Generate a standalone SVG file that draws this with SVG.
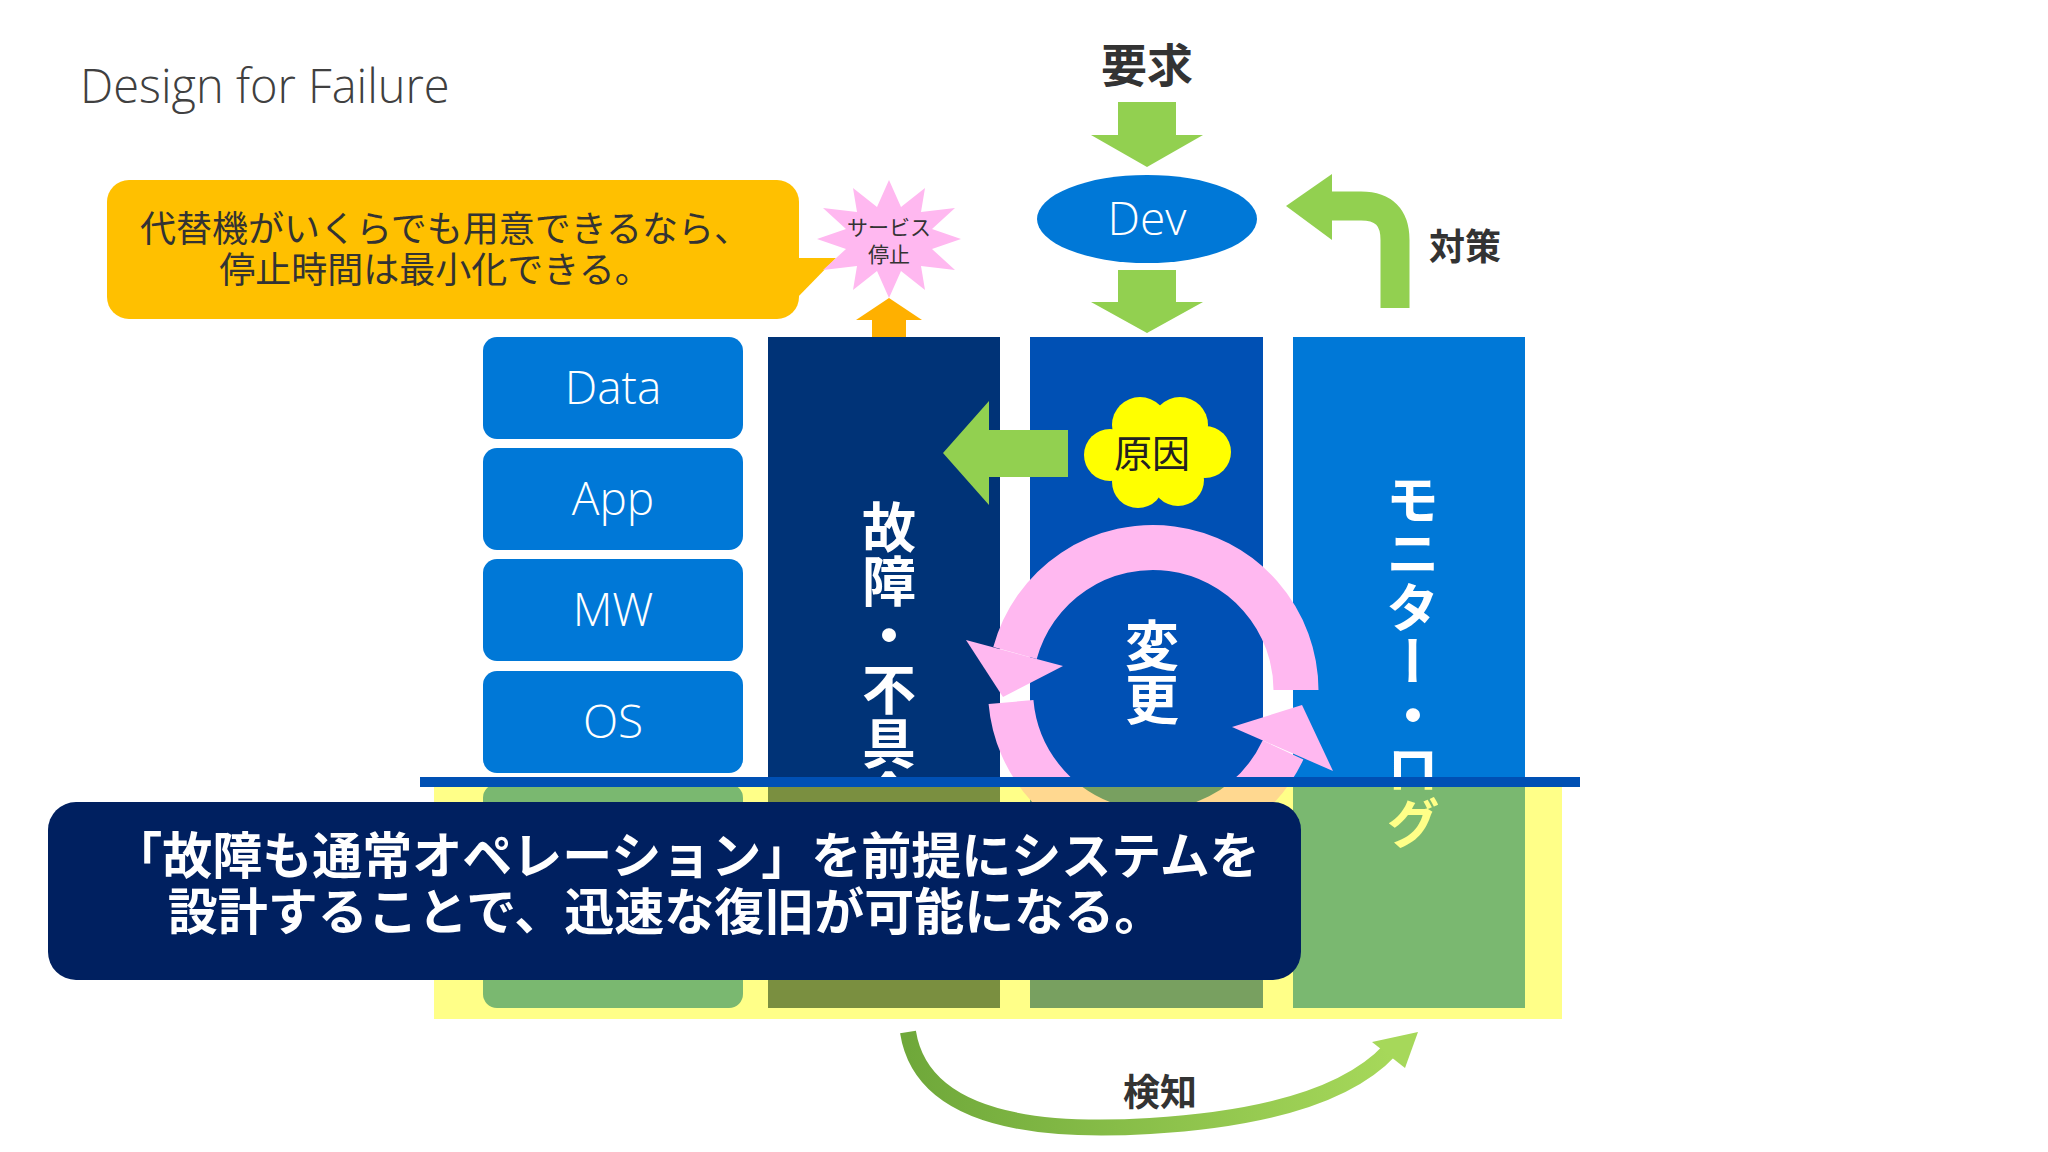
<svg xmlns="http://www.w3.org/2000/svg" width="2048" height="1152" viewBox="0 0 2048 1152">
<style>
.jp{font-family:"Noto Sans CJK JP","Noto Sans",sans-serif}
.lt{font-family:"Open Sans","Noto Sans",sans-serif;font-weight:300}
.box{fill:#0078D7}
.bt{fill:#fff;font-size:46px;text-anchor:middle}
.vt{writing-mode:vertical-rl;font-weight:bold;font-size:54px;fill:#fff}
.grn{fill:#92D050}
</style>
<defs>
<clipPath id="top"><rect x="0" y="0" width="2048" height="782"/></clipPath>
<clipPath id="bot"><rect x="0" y="782" width="2048" height="400"/></clipPath>
<linearGradient id="gg" x1="0" y1="0" x2="1" y2="0"><stop offset="0" stop-color="#6FA83A"/><stop offset="1" stop-color="#A6D85A"/></linearGradient>
</defs>
<rect width="2048" height="1152" fill="#fff"/>
<text class="lt" x="80" y="103" font-size="47" fill="#404040">Design for Failure</text>

<g id="callout-top">
<rect x="107" y="180" width="692" height="139" rx="22" fill="#FFC000"/>
<polygon points="795,258 836,258 795,300" fill="#FFC000"/>
<text class="jp" x="445" y="242" font-size="36" fill="#333" text-anchor="middle">代替機がいくらでも用意できるなら、</text>
<text class="jp" x="435" y="283" font-size="36" fill="#333" text-anchor="middle">停止時間は最小化できる。</text>
</g>

<g id="star">
<polygon points="889,180 901,207 925,188 921,212 955,208 932,229 961,239 932,249 955,270 921,266 925,290 901,271 889,298 877,271 853,290 857,266 823,270 846,249 817,239 846,229 823,208 857,212 853,188 877,207" fill="#FFB8F0"/>
<text class="jp" x="889" y="235" font-size="21" fill="#333" text-anchor="middle">サービス</text>
<text class="jp" x="889" y="262" font-size="21" fill="#333" text-anchor="middle">停止</text>
</g>
<polygon points="856,320 889,298 922,320 906,320 906,352 872,352 872,320" fill="#FFB000"/>

<g id="band"><rect x="434" y="784" width="1128" height="235" fill="#FFFF88"/></g>

<g id="stack">
<rect class="box" x="483" y="337" width="260" height="102" rx="14"/><text class="lt bt" x="613" y="404">Data</text>
<rect class="box" x="483" y="448" width="260" height="102" rx="14"/><text class="lt bt" x="613" y="515">App</text>
<rect class="box" x="483" y="559" width="260" height="102" rx="14"/><text class="lt bt" x="613" y="626">MW</text>
<rect class="box" x="483" y="671" width="260" height="102" rx="14"/><text class="lt bt" x="613" y="738">OS</text>
<rect x="483" y="784" width="260" height="224" rx="14" fill="#7AB870"/>
</g>

<g id="col-fault">
<rect x="768" y="337" width="232" height="445" fill="#003377"/>
<rect x="768" y="784" width="232" height="224" fill="#7A8F40"/>
<text class="jp vt" x="889" y="500" clip-path="url(#top)">故障・不具合</text>
</g>
<g id="col-change">
<rect x="1030" y="337" width="233" height="445" fill="#0050B4"/>
<rect x="1030" y="784" width="233" height="224" fill="#78A060"/>
<text class="jp vt" x="1152" y="618">変更</text>
</g>
<g id="col-monitor">
<rect x="1293" y="337" width="232" height="445" fill="#0078D7"/>
<rect x="1293" y="784" width="232" height="224" fill="#7AB870"/>
<text class="jp vt" x="1413" y="472" clip-path="url(#top)">モニター・ログ</text>
<text class="jp vt" x="1413" y="472" clip-path="url(#bot)" style="fill:#FFFF88">モニター・ログ</text>
</g>

<g id="cause">
<g fill="#FFFF00">
<circle cx="1110" cy="455" r="26"/><circle cx="1140" cy="425" r="28"/><circle cx="1180" cy="425" r="28"/><circle cx="1205" cy="452" r="26"/><circle cx="1178" cy="480" r="26"/><circle cx="1138" cy="482" r="26"/><ellipse cx="1157" cy="453" rx="55" ry="35"/>
</g>
<text class="jp" x="1152" y="467" font-size="38" fill="#222" text-anchor="middle">原因</text>
</g>

<g id="connectors">
<polygon class="grn" points="1068,430 989,430 989,401 943,453 989,505 989,477 1068,477"/>
<path d="M1296 690 A143 143 0 0 0 1015 653" fill="none" stroke="#FFB8F0" stroke-width="45"/>
<polygon points="1063,666 966,640 1003,697" fill="#FFB8F0"/>
<g clip-path="url(#top)">
<path d="M1011 702 A143 143 0 0 0 1283 750" fill="none" stroke="#FFB8F0" stroke-width="45"/>
<polygon points="1333,771 1232,727 1302,705" fill="#FFB8F0"/>
</g>
<path d="M1011 702 A143 143 0 0 0 1283 750" fill="none" stroke="#FFD890" stroke-width="45" clip-path="url(#bot)"/>

<polygon class="grn" points="1118,102 1176,102 1176,135 1203,135 1147,167 1091,135 1118,135"/>
<polygon class="grn" points="1118,270 1176,270 1176,302 1203,302 1147,333 1091,302 1118,302"/>
<path d="M1395 308 V240 Q1395 206 1361 206 H1330" fill="none" stroke="#92D050" stroke-width="29"/>
<polygon class="grn" points="1332,174 1286,206 1332,240"/>
<path d="M908 1032 Q925 1140 1150 1126 Q1330 1115 1390 1050" fill="none" stroke="url(#gg)" stroke-width="16"/>
<polygon points="1372,1042 1418,1032 1405,1068" fill="#A6D85A"/>
</g>

<line x1="420" y1="782" x2="1580" y2="782" stroke="#0050B4" stroke-width="10"/>

<g id="dev">
<ellipse cx="1147" cy="219" rx="110" ry="44" fill="#0078D7"/>
<text class="lt" x="1147" y="235" font-size="46" fill="#fff" text-anchor="middle">Dev</text>
</g>
<text class="jp" x="1147" y="82" font-size="46" font-weight="bold" fill="#333" text-anchor="middle">要求</text>
<text class="jp" x="1465" y="260" font-size="36" font-weight="bold" fill="#333" text-anchor="middle">対策</text>
<text class="jp" x="1160" y="1106" font-size="37" font-weight="bold" fill="#333" text-anchor="middle">検知</text>

<g id="callout-bottom">
<rect x="48" y="802" width="1253" height="178" rx="28" fill="#002060"/>
<text class="jp" x="686" y="874" font-size="50" font-weight="bold" fill="#fff" text-anchor="middle">「故障も通常オペレーション」を前提にシステムを</text>
<text class="jp" x="666" y="930" font-size="50" font-weight="bold" fill="#fff" text-anchor="middle">設計することで、迅速な復旧が可能になる。</text>
</g>
</svg>
